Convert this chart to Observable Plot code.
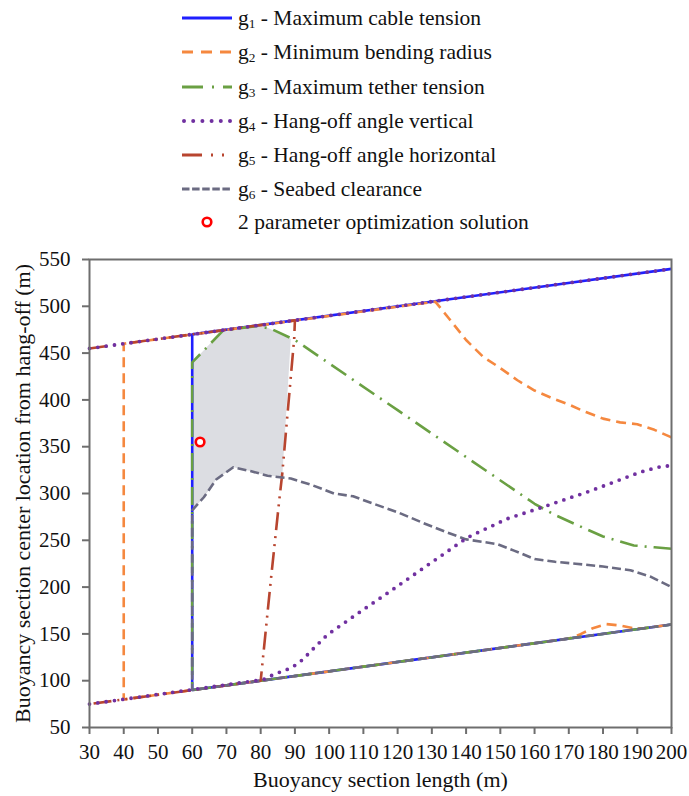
<!DOCTYPE html>
<html>
<head>
<meta charset="utf-8">
<script src="https://cdn.jsdelivr.net/npm/d3@7"></script>
<script src="https://cdn.jsdelivr.net/npm/@observablehq/plot@0.6"></script>
<style>
  body { margin: 0; background: #fff; font-family: "Liberation Serif", "DejaVu Serif", serif; }
  #wrap { position: relative; width: 689px; height: 796px; overflow: hidden; }
  #legend { position: absolute; left: 0; top: 0; width: 689px; height: 245px; }
  .row { position: absolute; left: 180px; height: 34px; display: flex; align-items: center; font-size: 21.5px; color: #111; white-space: nowrap; }
  .row svg { width: 54px; height: 34px; margin-right: 4px; flex: none; }
  .row sub { font-size: 0.62em; vertical-align: -0.25em; line-height: 0; }
  #chart { position: absolute; left: 0; top: 245px; }
</style>
</head>
<body>
<div id="wrap">
  <div id="legend"></div>
  <div id="chart"></div>
</div>
<script>
// Buoyancy section length (m) vs. centre location from hang-off (m):
// constraint boundaries g1..g6 of the two-parameter design space.

const xTicks = [30, 40, 50, 60, 70, 80, 90, 100, 110, 120, 130, 140, 150, 160, 170, 180, 190, 200];
const yTicks = [50, 100, 150, 200, 250, 300, 350, 400, 450, 500, 550];

const xTitle = "Buoyancy section length (m)";
const yTitle = "Buoyancy section center location from hang-off (m)";

const seriesNames = [
  "Maximum cable tension",
  "Minimum bending radius",
  "Maximum tether tension",
  "Hang-off angle vertical",
  "Hang-off angle horizontal",
  "Seabed clearance"
];
const solutionName = "2 parameter optimization solution";

// g1 - maximum cable tension
const g1X = [200, 60, 60, 200];
const g1Y = [160, 90, 470, 540];

// g2 - minimum bending radius
const g2X = [200, 195, 190, 185, 180, 175, 170, 165, 160, 155, 150, 145, 140, 135, 131, 40, 40, 170, 173, 177, 181, 185, 189, 192, 200];
const g2Y = [360, 368, 374, 376, 380, 387, 395, 402, 410, 421, 434, 446, 464, 487, 505, 460, 80, 145, 149, 156, 160.5, 159, 156, 156, 160];

// g3 - maximum tether tension
const g3X = [200, 195, 189, 180, 172, 166, 160, 140, 120, 100, 90, 83, 79, 69, 60, 60, 200];
const g3Y = [241, 242.5, 244.5, 254, 267, 277, 289, 339, 389, 439, 464, 476, 479, 474, 440, 90, 160];

// g4 - hang-off angle vertical (upper edge and lower branch)
const g4UpperX = [30, 200];
const g4UpperY = [455, 540];
const g4X = [30, 78.5, 81.5, 83.4, 86, 88.6, 90.7, 92.7, 94.6, 96.6, 98.5, 100.5, 105.3, 110, 118, 127.8, 140.4, 152, 162, 176.5, 191, 196, 200];
const g4Y = [75, 100, 102, 106, 109.7, 113.2, 117.9, 123.9, 131.4, 138.6, 145.8, 151.7, 164, 176, 196, 221, 253, 273, 285, 303, 323, 328, 330];

// g5 - hang-off angle horizontal
const g5X = [30, 90, 89.8, 86.3, 85.4, 82.9, 80.5, 80, 30];
const g5Y = [455, 485, 466, 321, 292, 205, 118, 100, 75];

// g6 - seabed clearance
const g6X = [200, 60, 60, 63.4, 67, 72, 77, 82, 88.8, 95, 101.4, 107, 113, 120, 127.8, 134, 140, 149, 154, 160, 166, 172, 180, 188, 194, 200];
const g6Y = [160, 90, 282, 296, 315, 328, 324, 319, 316, 309, 300, 297, 289, 280, 268, 259, 251, 246, 239, 230, 227, 225, 222, 218, 211, 200];

// feasible region left by all six constraints
const regionX = [60, 60, 68.3, 75, 81, 88.8, 86.3, 82, 77, 72, 67, 63.4, 60];
const regionY = [282, 440, 472, 476.5, 479, 465, 318, 319, 324, 328, 315, 296, 282];

// optimum found by the two-parameter optimisation
const solutionX = [62.3];
const solutionY = [355];

const zip = (xs, ys) => xs.map((x, i) => ({x, y: ys[i]}));

const styles = [
  {stroke: "#1f1fff", dash: null, width: 2.6, cap: "butt"},
  {stroke: "#f5883f", dash: "10 6", width: 2.6, cap: "butt"},
  {stroke: "#6aa043", dash: "18 7 2 7", width: 2.6, cap: "butt"},
  {stroke: "#7030a0", dash: "0 8.4", width: 3.8, cap: "round"},
  {stroke: "#b8452f", dash: "18 6 2 6 2 6", width: 2.6, cap: "butt"},
  {stroke: "#6b6b82", dash: "9 4", width: 2.6, cap: "butt"}
];
const legendStyles = [
  {dash: null},
  {dash: "11 8"},
  {dash: "21 9 2 9"},
  {dash: "0 9.2"},
  {dash: "20 9 2 9 2 9"},
  {dash: "7.5 2.6"}
];

// legend
const legend = document.getElementById("legend");
const rowCenters = [18, 52, 87, 121, 155, 189, 222];
seriesNames.forEach((name, i) => {
  const row = document.createElement("div");
  row.className = "row";
  row.style.top = (rowCenters[i] - 17) + "px";
  const s = styles[i];
  const dash = legendStyles[i].dash ? `stroke-dasharray="${legendStyles[i].dash}"` : "";
  const x1 = s.cap === "round" ? 4 : 2;
  row.innerHTML = `<svg viewBox="0 0 54 34"><line x1="${x1}" x2="52" y1="17" y2="17" stroke="${s.stroke}" stroke-width="${s.cap === "round" ? 4 : 2.8}" stroke-linecap="${s.cap}" ${dash}/></svg><span>g<sub>${i + 1}</sub> - ${name}</span>`;
  legend.appendChild(row);
});
{
  const row = document.createElement("div");
  row.className = "row";
  row.style.top = (rowCenters[6] - 17) + "px";
  row.innerHTML = `<svg viewBox="0 0 54 34"><circle cx="27" cy="17" r="4.3" fill="white" stroke="#ff0000" stroke-width="2.6"/></svg><span>${solutionName}</span>`;
  legend.appendChild(row);
}

const lineMark = (pts, s) => Plot.line(pts, {
  x: "x", y: "y", stroke: s.stroke, strokeWidth: s.width,
  strokeDasharray: s.dash || undefined, strokeLinecap: s.cap, strokeLinejoin: "round"
});

const chart = Plot.plot({
  width: 689,
  height: 551,
  marginLeft: 89,
  marginRight: 18,
  marginTop: 14,
  marginBottom: 69,
  x: {domain: [30, 200]},
  y: {domain: [50, 550]},
  style: {fontFamily: "'Liberation Serif', 'DejaVu Serif', serif", fontSize: "21px", color: "#111", background: "white"},
  marks: [
    Plot.line(zip(regionX, regionY), {x: "x", y: "y", fill: "#dcdde2", stroke: "none"}),
    lineMark(zip(g1X, g1Y), styles[0]),
    lineMark(zip(g2X, g2Y), styles[1]),
    lineMark(zip(g3X, g3Y), styles[2]),
    lineMark(zip(g5X, g5Y), styles[4]),
    lineMark(zip(g6X, g6Y), styles[5]),
    lineMark(zip(g4X, g4Y), styles[3]),
    lineMark(zip(g4UpperX, g4UpperY), styles[3]),
    Plot.dot(zip(solutionX, solutionY), {x: "x", y: "y", r: 4.3, fill: "white", stroke: "#ff0000", strokeWidth: 2.6}),
    Plot.frame({stroke: "#6e6e6e", strokeWidth: 2}),
    Plot.axisX(xTicks, {tickSize: 7, tickPadding: 10, stroke: "#6e6e6e", strokeWidth: 2, label: null}),
    Plot.axisY(yTicks, {tickSize: 7, tickPadding: 12, stroke: "#6e6e6e", strokeWidth: 2, label: null}),
    // axis titles, slightly larger than the tick labels
    Plot.axisX({ticks: [], tickSize: 0, fontSize: 22, label: xTitle, labelAnchor: "center", labelArrow: "none", labelOffset: 59}),
    Plot.axisY({ticks: [], tickSize: 0, fontSize: 22, label: yTitle, labelAnchor: "center", labelArrow: "none", labelOffset: 75})
  ]
});
document.getElementById("chart").appendChild(chart);
</script>
</body>
</html>
